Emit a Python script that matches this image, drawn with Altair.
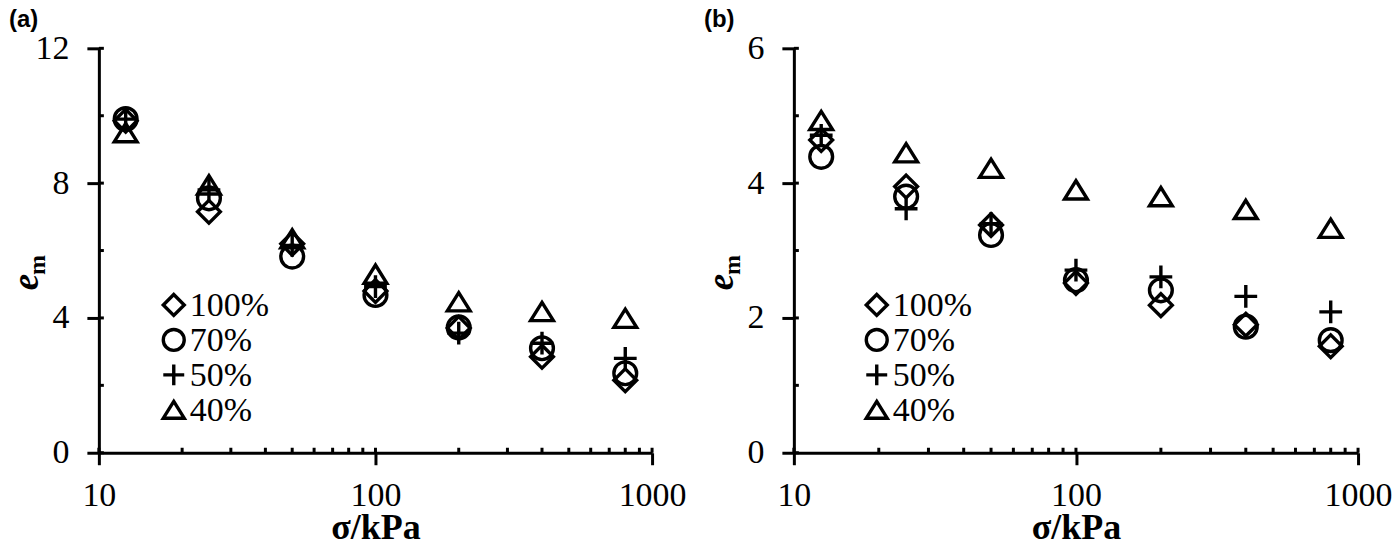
import altair as alt
import pandas as pd

# ---- data -------------------------------------------------------------
sigma = [12.5, 25, 50, 100, 200, 400, 800]
series = ["100%", "70%", "50%", "40%"]

a_100 = [9.85, 7.15, 6.2, 4.8, 3.7, 2.85, 2.15]
a_70 = [9.9, 7.55, 5.82, 4.68, 3.72, 3.1, 2.36]
a_50 = [9.9, 7.8, 6.15, 4.93, 3.55, 3.25, 2.8]
a_40 = [9.5, 7.95, 6.35, 5.3, 4.48, 4.19, 3.99]

b_100 = [4.64, 3.95, 3.38, 2.52, 2.19, 1.9, 1.58]
b_70 = [4.39, 3.8, 3.23, 2.56, 2.41, 1.87, 1.67]
b_50 = [4.71, 3.62, 3.4, 2.71, 2.61, 2.32, 2.09]
b_40 = [4.93, 4.45, 4.22, 3.9, 3.8, 3.61, 3.33]

x_major = [10, 100, 1000]
x_minor = [10, 20, 30, 40, 50, 60, 70, 80, 90, 100, 200, 300, 400, 500, 600, 700, 800, 900, 1000]
ya_major = [0, 4, 8, 12]
ya_minor = [0, 2, 4, 6, 8, 10, 12]
yb_major = [0, 2, 4, 6]
yb_minor = [0, 1, 2, 3, 4, 5, 6]

shapes = ["M0,-1L1,0L0,1L-1,0Z", "circle", "M-1,0L1,0M0,-1L0,1", "M0,-0.8L1,0.8L-1,0.8Z"]

SERIF = "Liberation Serif"
H = 405


def make_df(cols):
    rows = []
    for name, vals in zip(series, cols):
        for s, v in zip(sigma, vals):
            rows.append({"sigma": s, "em": v, "series": name})
    return pd.DataFrame(rows)


def panel(df, ymax, ymajor, yminor, label, w, leg_x):
    xscale = alt.Scale(type="log", domain=[10, 1000], nice=False)
    yscale = alt.Scale(domain=[0, ymax], nice=False, zero=True)
    xaxis = alt.Axis(values=x_major, format="d", title="σ/kPa", grid=False,
                     tickSize=12, tickWidth=3, tickColor="black",
                     domainWidth=3, domainColor="black",
                     labelFont=SERIF, labelFontSize=34, labelColor="black",
                     labelPadding=14, labelFlush=False,
                     titleFont=SERIF, titleFontSize=36, titleFontWeight="bold",
                     titleColor="black", titlePadding=-2)
    yaxis = alt.Axis(values=ymajor, title=None, grid=False,
                     tickSize=12, tickWidth=3, tickColor="black",
                     domainWidth=3, domainColor="black",
                     labelFont=SERIF, labelFontSize=34, labelColor="black",
                     labelPadding=18)
    X = alt.X("sigma:Q", scale=xscale, axis=xaxis)
    Y = alt.Y("em:Q", scale=yscale, axis=yaxis)
    shape_scale = alt.Scale(domain=series, range=shapes)

    pts = alt.Chart(df).mark_point(filled=False, size=520, strokeWidth=3.4,
                                   color="black", opacity=1).encode(
        x=X, y=Y,
        shape=alt.Shape("series:N", sort=series, scale=shape_scale, legend=None),
    )
    xt = alt.Chart(pd.DataFrame({"sigma": x_minor})).mark_rule(
        color="black", strokeWidth=3).encode(x=X, y=alt.value(H), y2=alt.value(H - 5))
    yt = alt.Chart(pd.DataFrame({"em": yminor})).mark_rule(
        color="black", strokeWidth=3).encode(y=Y, x=alt.value(0), x2=alt.value(5))
    e_txt = alt.Chart(pd.DataFrame({"k": [0]})).mark_text(
        text="e", font=SERIF, fontSize=37, fontStyle="italic", fontWeight="bold",
        angle=270, align="center", baseline="alphabetic", color="black").encode(
        x=alt.value(-61), y=alt.value(234))
    m_txt = alt.Chart(pd.DataFrame({"k": [0]})).mark_text(
        text="m", font=SERIF, fontSize=24, fontWeight="bold",
        angle=270, align="center", baseline="alphabetic", color="black").encode(
        x=alt.value(-54), y=alt.value(217))
    lab = alt.Chart(pd.DataFrame({"k": [0]})).mark_text(
        text=label, font="Liberation Sans", fontSize=24, fontWeight="bold",
        align="left", baseline="top", color="black").encode(
        x=alt.value(-90), y=alt.value(-40))

    # legend drawn inside the plot, one row per series
    leg_df = pd.DataFrame({"series": series})
    rowY = alt.Y("series:N", sort=series,
                 scale=alt.Scale(type="point", domain=series, range=[257, 362], padding=0),
                 axis=None)
    leg_sym = alt.Chart(leg_df).mark_point(filled=False, size=440, strokeWidth=3.4,
                                           color="black", opacity=1).encode(
        x=alt.value(leg_x), y=rowY,
        shape=alt.Shape("series:N", sort=series, scale=shape_scale, legend=None))
    leg_txt = alt.Chart(leg_df).mark_text(
        font=SERIF, fontSize=34, align="left", baseline="middle", dy=1,
        color="black").encode(x=alt.value(leg_x + 16), y=rowY, text="series:N")
    legend = alt.layer(leg_sym, leg_txt)

    main = alt.layer(pts, xt, yt, e_txt, m_txt, lab)
    return alt.layer(main, legend).resolve_scale(y="independent").properties(width=w, height=H)


pa = panel(make_df([a_100, a_70, a_50, a_40]), 12, ya_major, ya_minor, "(a)", 554, 75)
pb = panel(make_df([b_100, b_70, b_50, b_40]), 6, yb_major, yb_minor, "(b)", 565, 83)

chart = alt.hconcat(pa, pb, spacing=17).resolve_scale(
    x="independent", y="independent", shape="independent"
).properties(
    padding=0, background="white"
).configure(font=SERIF).configure_view(stroke=None)

chart.save("out.html", embed_options={"renderer": "svg", "actions": False})
